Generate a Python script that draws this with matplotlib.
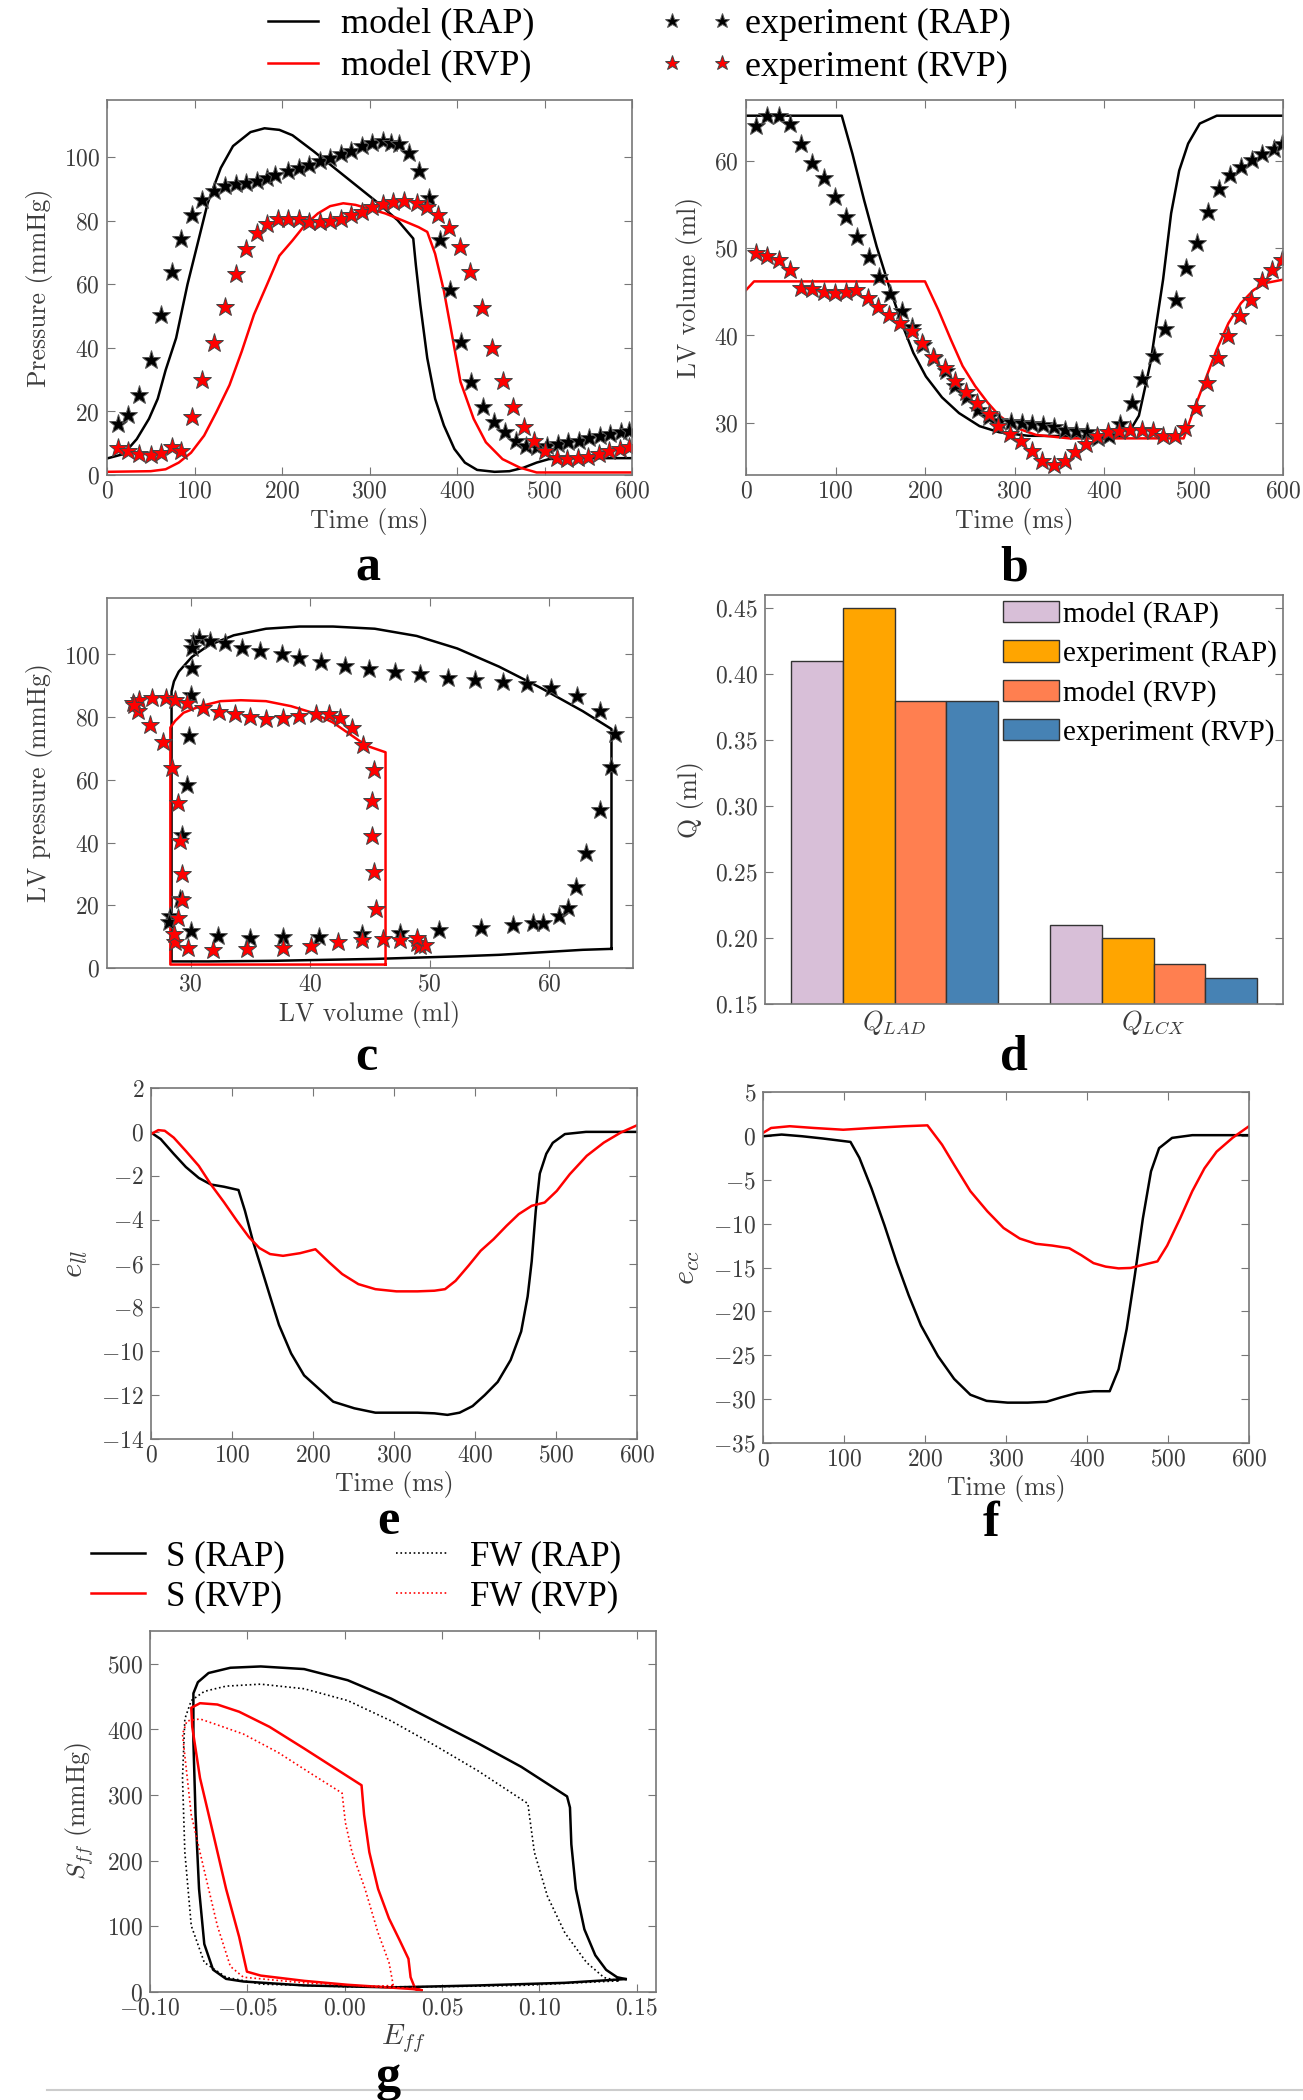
import numpy as np
import matplotlib
matplotlib.use('Agg')
import matplotlib.pyplot as plt
from matplotlib.lines import Line2D
from matplotlib.font_manager import FontProperties

# ---------------- data ----------------
# panel a : LV pressure vs time
a_t_model_rap = [0, 19, 34, 48, 58, 67, 79, 92, 105, 115, 130, 144, 164, 180, 197, 212, 236, 260, 284, 308, 332, 350,
                 353, 358, 366, 375, 385, 397, 409, 423, 443, 460, 476, 491, 505, 530, 600]
a_p_model_rap = [5.2, 6.6, 11.3, 17.7, 24, 33, 43.1, 60, 74.4, 85.5, 96.6, 103.5, 107.9, 109.1, 108.6, 106.9, 101.9,
                 96.6, 91.3, 86, 80.2, 74.4, 66, 53.7, 36.8, 24, 15.6, 8.2, 3.9, 1.6, 1.0, 1.2, 2.3, 3.9, 5.0, 5.3, 5.3]
a_t_model_rvp = [0, 50, 67, 82, 96, 111, 125, 140, 154, 168, 183, 197, 212, 226, 241, 255, 270, 284, 298, 318, 337,
                 356, 366, 375, 385, 395, 404, 419, 433, 452, 472, 491, 600]
a_p_model_rvp = [1.0, 1.2, 1.8, 3.9, 7, 12.4, 19.8, 28.3, 38.9, 50.5, 60, 69, 73.8, 78.6, 82.3, 84.6, 85.5, 85, 83.9,
                 82.3, 80.2, 78, 76.5, 69.6, 58, 43, 29.3, 17.7, 10.3, 5, 2.3, 0.8, 0.8]
a_t_exp_rap = [12, 24, 37, 50, 62, 74, 85, 97, 109, 122, 135, 147, 159, 171, 183, 192, 207, 219, 231, 243, 255, 267,
               279, 291, 303, 315, 325, 334, 345, 356, 368, 380, 392, 404, 416, 430, 442, 455, 467, 479, 491, 503, 515,
               527, 539, 551, 563, 575, 587, 597]
a_p_exp_rap = [16.1, 18.8, 25.3, 36.2, 50.3, 64, 74.4, 81.8, 86.5, 89.4, 90.8, 91.6, 92, 92.4, 93.4, 94.5, 95.6, 96.6,
               97.7, 98.7, 99.8, 101, 102.1, 103.5, 104.6, 105.1, 104.6, 104, 101.2, 95.6, 87.1, 73.8, 58.2, 42, 29.3,
               21.4, 16.6, 13.5, 10.8, 9.2, 8.7, 9.2, 9.7, 10.3, 10.8, 11.5, 12.4, 12.9, 13.5, 13.7]
a_t_exp_rvp = [12, 24, 37, 50, 62, 74, 85, 97, 109, 122, 135, 147, 159, 171, 183, 195, 207, 219, 231, 243, 255, 267,
               279, 291, 303, 315, 327, 339, 354, 366, 378, 391, 403, 415, 428, 440, 452, 464, 476, 488, 500, 514, 526,
               538, 550, 562, 574, 586, 597]
a_p_exp_rvp = [8.4, 7.6, 6.6, 6.4, 6.8, 8.7, 7.6, 18.2, 29.9, 41.5, 52.9, 63.2, 71.2, 76.2, 79.1, 80.4, 80.7, 80.4,
               79.7, 79.7, 80, 80.7, 81.8, 82.8, 84.2, 85.3, 86, 86.3, 85.7, 84.4, 81.8, 77.8, 71.9, 63.8, 52.6, 40.1,
               29.6, 21.4, 15, 10.8, 7.6, 5.5, 5, 5.2, 5.8, 6.6, 7.6, 8.2, 8.7]

# panel b : LV volume vs time
b_t_model_rap = [0, 107, 119, 132, 146, 160, 174, 187, 201, 219, 238, 261, 283, 315, 425, 439, 452, 466, 475, 484, 494,
                 507, 526, 600]
b_v_model_rap = [65.2, 65.2, 60.8, 55.5, 50.2, 45.6, 41.4, 38, 35.3, 32.9, 31.1, 29.6, 28.9, 28.5, 28.4, 30.8, 36.9,
                 46.4, 54, 58.9, 62, 64.3, 65.2, 65.2]
b_t_model_rvp = [0, 9, 200, 215, 229, 242, 256, 270, 283, 302, 324, 361, 489, 498, 512, 526, 539, 553, 567, 580, 600]
b_v_model_rvp = [45.2, 46.2, 46.2, 42.9, 39.5, 36.5, 34.2, 32.3, 30.8, 29.4, 28.6, 28.2, 28.2, 30.8, 34.6, 38.4, 41.4,
                 43.7, 45.2, 46, 46.4]
b_t_exp_rap = [11, 23, 37, 49, 62, 74, 87, 99, 112, 124, 137, 149, 161, 174, 186, 198, 210, 223, 234, 247, 259, 271,
               283, 296, 308, 320, 332, 344, 356, 369, 381, 393, 406, 418, 431, 443, 456, 468, 480, 492, 504, 516, 529,
               541, 553, 565, 577, 590, 599]
b_v_exp_rap = [64, 65.2, 65.2, 64.3, 62, 59.8, 58, 55.9, 53.6, 51.3, 49, 46.7, 44.8, 42.8, 41, 38.9, 37.4, 35.9, 34.2,
               32.9, 31.5, 30.6, 30.2, 30.1, 30, 29.8, 29.7, 29.5, 29.2, 29, 28.9, 28.3, 28.5, 29.8, 32.3, 35, 37.6,
               40.7, 44.1, 47.7, 50.6, 54.2, 56.8, 58.4, 59.3, 60.1, 60.8, 61.4, 62]
b_t_exp_rvp = [11, 24, 37, 49, 62, 74, 87, 99, 112, 123, 136, 148, 160, 172, 185, 197, 209, 222, 233, 246, 258, 271,
               282, 295, 307, 319, 331, 344, 356, 368, 380, 392, 404, 417, 429, 442, 455, 466, 479, 491, 503, 515, 527,
               539, 552, 564, 576, 588, 599]
b_v_exp_rvp = [49.4, 49.1, 48.7, 47.5, 45.4, 45.3, 45, 44.9, 45, 45.2, 44.3, 43.3, 42.4, 41.4, 40.5, 39.1, 37.5, 36.3,
               34.8, 33.5, 32.3, 31, 29.6, 28.7, 27.9, 26.8, 25.6, 25.2, 25.6, 26.6, 27.5, 28.5, 28.9, 29, 29.2, 29.2,
               29, 28.5, 28.5, 29.4, 31.7, 34.6, 37.4, 39.9, 42.2, 44.1, 46.2, 47.5, 48.7]

# panel c : PV loops
c_v_model_rap = [65.2, 65.2, 62.8, 59.3, 55.8, 52.3, 48.9, 45.4, 41.9, 39.1, 36.3, 33.6, 31.5, 30.1, 29.0, 28.6, 28.4,
                 28.4, 28.4, 31.5, 37.0, 45.4, 52.3, 55.8, 59.3, 62.8, 65.2]
c_p_model_rap = [6.1, 76.2, 81.9, 89.3, 96.1, 101.9, 105.9, 108.2, 108.9, 108.9, 108.2, 106.1, 102.9, 99.2, 94.5, 91.4,
                 88.2, 40.0, 2.1, 2.1, 2.3, 2.9, 3.7, 4.2, 5.0, 5.8, 6.1]
c_v_model_rvp = [46.3, 46.3, 44.7, 43.3, 41.9, 40.2, 38.4, 36.3, 34.2, 32.5, 30.8, 29.4, 28.7, 28.3, 28.3, 46.3]
c_p_model_rvp = [1.1, 68.8, 70.9, 74.6, 78.3, 81.4, 83.5, 85.1, 85.4, 85.1, 83.5, 81.4, 78.8, 76.7, 1.1, 1.1]
c_v_exp_rap = [60.8, 61.6, 62.2, 63.1, 64.2, 65.2, 65.5, 64.2, 62.3, 60.1, 58.1, 56.1, 53.8, 51.5, 49.2, 47.1, 44.9,
               42.9, 40.9, 39.1, 37.6, 35.8, 34.3, 32.9, 31.6, 30.7, 30.2, 30.1, 30.1, 30.0, 29.9, 29.7, 29.3, 29.1,
               28.3, 28.2, 30.0, 32.3, 35.0, 37.7, 40.7, 44.3, 47.5, 50.8, 54.3, 57.0, 58.6, 59.5]
c_p_exp_rap = [16.6, 19.1, 25.7, 36.8, 50.4, 64.1, 74.6, 82.1, 86.7, 89.3, 90.5, 91.2, 91.9, 92.6, 93.7, 94.3, 95.4,
               96.4, 97.7, 98.9, 100.0, 101.0, 102.1, 103.5, 104.2, 105.3, 104.0, 101.9, 95.8, 87.2, 74.0, 58.3, 42.5,
               22.0, 16.6, 14.7, 11.8, 10.2, 9.7, 9.8, 10.0, 10.7, 11.2, 12.1, 12.9, 13.7, 14.4, 14.4]
c_v_exp_rvp = [25.2, 25.7, 26.8, 27.9, 28.7, 29.7, 31.0, 32.4, 33.7, 35.0, 36.3, 37.7, 39.1, 40.5, 41.6, 42.5, 43.5,
               44.4, 45.3, 45.2, 45.2, 45.3, 45.5, 46.1, 44.3, 42.3, 40.1, 37.7, 34.7, 31.9, 29.8, 28.7, 28.6, 28.9,
               29.3, 29.3, 29.1, 28.9, 28.4, 27.7, 26.6, 25.6, 25.3, 47.5, 48.9, 49.2, 49.6, 48.9]
c_p_exp_rvp = [84.6, 85.6, 86.1, 86.1, 85.4, 84.6, 82.8, 81.7, 80.9, 80.0, 79.5, 79.8, 80.4, 80.9, 81.1, 79.6, 76.7,
               71.1, 63.2, 53.3, 42.0, 30.5, 18.9, 9.2, 8.9, 8.2, 7.0, 6.5, 6.0, 5.6, 6.3, 8.4, 11.0, 15.8, 21.8, 29.9,
               40.4, 52.7, 63.8, 72.0, 77.5, 81.9, 84.0, 8.9, 7.9, 7.0, 7.4, 9.5]

# panel d : coronary flow
d_groups = ['$Q_{LAD}$', '$Q_{LCX}$']
d_series = ['model (RAP)', 'experiment (RAP)', 'model (RVP)', 'experiment (RVP)']
d_model_rap = [0.41, 0.21]
d_exp_rap = [0.45, 0.20]
d_model_rvp = [0.38, 0.18]
d_exp_rvp = [0.38, 0.17]
d_colors = ['#d8bfd8', '#ffa500', '#ff7f50', '#4682b4']

# panel e : longitudinal strain
e_t_rap = [0, 12, 28, 43, 59, 74, 90, 108, 116, 126, 137, 147, 158, 173, 189, 204, 225, 251, 277, 303, 329, 350, 366,
           381, 397, 412, 428, 444, 457, 465, 470, 475, 480, 488, 496, 511, 537, 600]
e_v_rap = [-0.03, -0.33, -1.0, -1.6, -2.1, -2.4, -2.5, -2.65, -3.6, -5.0, -6.3, -7.5, -8.8, -10.1, -11.1, -11.6, -12.3,
           -12.6, -12.8, -12.8, -12.8, -12.83, -12.9, -12.8, -12.5, -12.0, -11.4, -10.4, -9.1, -7.5, -5.9, -3.6, -1.9,
           -1.0, -0.5, -0.1, 0.0, 0.0]
e_t_rvp = [0, 9, 17, 28, 43, 59, 74, 90, 106, 121, 134, 147, 163, 184, 203, 220, 236, 256, 277, 303, 329, 350, 363, 376,
           392, 407, 423, 439, 454, 470, 486, 501, 517, 538, 559, 580, 600]
e_v_rvp = [-0.1, 0.08, 0.05, -0.26, -0.87, -1.55, -2.4, -3.2, -4.05, -4.8, -5.3, -5.57, -5.65, -5.53, -5.35, -5.95,
           -6.48, -6.94, -7.17, -7.27, -7.27, -7.24, -7.17, -6.79, -6.1, -5.42, -4.89, -4.28, -3.75, -3.37, -3.22,
           -2.69, -1.93, -1.09, -0.49, -0.03, 0.3]

# panel f : circumferential strain
f_t_rap = [0, 23, 48, 74, 94, 108, 119, 134, 150, 165, 180, 195, 216, 236, 256, 276, 302, 327, 350, 368, 388, 408, 428,
           439, 449, 459, 469, 479, 489, 505, 530, 600]
f_v_rap = [-0.04, 0.15, -0.04, -0.3, -0.53, -0.69, -2.5, -6, -10.2, -14.4, -18.2, -21.6, -25.1, -27.7, -29.5, -30.2,
           -30.4, -30.4, -30.3, -29.8, -29.3, -29.1, -29.1, -26.6, -22, -15.9, -9.4, -4.05, -1.4, -0.23, 0.08, 0.08]
f_t_rvp = [0, 10, 33, 63, 99, 134, 175, 203, 221, 236, 256, 277, 297, 317, 337, 357, 378, 393, 408, 423, 439, 454, 469,
           487, 499, 515, 530, 545, 560, 580, 600]
f_v_rvp = [0.34, 0.9, 1.1, 0.9, 0.7, 0.9, 1.1, 1.2, -1.0, -3.3, -6.3, -8.6, -10.5, -11.7, -12.3, -12.5, -12.8, -13.6,
           -14.5, -14.9, -15.1, -15.05, -14.7, -14.3, -12.5, -9.4, -6.3, -3.7, -1.8, -0.2, 1.1]

# panel g : fibre stress-strain loops
g_e_s_rap = [0.1444, 0.14, 0.1344, 0.1288, 0.1232, 0.1188, 0.1165, 0.1158, 0.1143, 0.0908, 0.0685, 0.0462, 0.0239,
             0.0016, -0.0208, -0.0431, -0.0587, -0.0699, -0.0754, -0.0777, -0.0777, -0.0766, -0.0748, -0.0721,
             -0.0676, -0.0609, -0.052, -0.0208, 0.0239, 0.0685, 0.1132, 0.1444]
g_s_s_rap = [19.7, 22.5, 33.7, 56, 95.5, 157, 225, 281, 298, 343, 379, 413, 447, 475, 492, 496, 494, 486, 472, 455, 382,
             270, 157, 73, 34, 20, 16, 10, 7, 10, 14, 19.7]
g_e_fw_rap = [0.141, 0.1333, 0.1243, 0.1132, 0.1042, 0.0975, 0.0949, 0.0942, 0.0685, 0.0462, 0.0239, 0.0016, -0.0208,
              -0.0431, -0.0609, -0.0721, -0.0788, -0.0821, -0.0833, -0.0821, -0.0788, -0.0721, -0.0609, -0.0431,
              0.0016, 0.0462, 0.0908, 0.141]
g_s_fw_rap = [17, 22, 45, 90, 146, 213, 270, 287, 337, 376, 413, 444, 462, 469, 466, 458, 444, 416, 326, 213, 101, 45,
              22.5, 12, 8, 8, 10, 17]
g_e_s_rvp = [0.0395, 0.035, 0.0358, 0.0339, 0.0328, 0.0283, 0.0228, 0.0172, 0.0127, 0.0100, 0.0087, -0.0029, -0.0208,
             -0.0386, -0.0542, -0.0654, -0.0743, -0.0788, -0.0783, -0.0743, -0.0676, -0.0609, -0.0542, -0.0502,
             -0.0431, -0.0208, 0.0016, 0.0239, 0.035, 0.0395]
g_s_s_rvp = [2.8, 5.6, 8.4, 22.5, 50.6, 78.7, 112, 157, 213, 270, 315, 337, 371, 404, 427, 438, 440, 433, 404, 326, 242,
             157, 84, 31, 25, 17, 11, 6.7, 4.5, 2.8]
g_e_fw_rvp = [0.025, 0.0228, 0.0172, 0.0105, 0.0038, 0.0004, -0.0013, -0.0163, -0.0342, -0.052, -0.0654, -0.0743,
              -0.081, -0.0833, -0.0821, -0.0788, -0.0721, -0.0654, -0.0587, -0.052, -0.0208, 0.0127, 0.025]
g_s_fw_rvp = [10, 45, 90, 157, 213, 258, 303, 331, 365, 393, 407, 416, 413, 393, 360, 270, 185, 101, 39, 22.5, 14, 8.4,
              10]

# ---------------- style ----------------
W, H = 1303, 2100
plt.rcParams.update({
    'font.family': 'cmr10',
    'mathtext.fontset': 'cm',
    'axes.formatter.use_mathtext': True,
    'axes.unicode_minus': True,
    'xtick.direction': 'in', 'ytick.direction': 'in',
    'xtick.top': True, 'ytick.right': True,
    'xtick.major.size': 6, 'ytick.major.size': 6,
    'xtick.major.width': 0.8, 'ytick.major.width': 0.8,
    'xtick.color': '#777777', 'ytick.color': '#777777',
    'xtick.labelcolor': '#3c3c3c', 'ytick.labelcolor': '#3c3c3c',
    'xtick.labelsize': 17, 'ytick.labelsize': 17,
    'xtick.major.pad': 4, 'ytick.major.pad': 5,
    'axes.edgecolor': '#777777', 'axes.linewidth': 1.2,
    'axes.labelcolor': '#3c3c3c', 'axes.labelsize': 18.5,
})
RED = '#ff0000'
LW = 1.8
STAR = dict(ls='none', marker='*', ms=14, mew=0.7)
serif = 'Liberation Serif'

fig = plt.figure(figsize=(W / 100, H / 100), dpi=100)


def ax_at(x0, x1, y0, y1):
    return fig.add_axes([x0 / W, 1 - y1 / H, (x1 - x0) / W, (y1 - y0) / H])


def letter(x, y, s):
    fig.text(x / W, 1 - y / H, s, ha='center', va='center', fontsize=36, fontweight='bold', family=serif)


# panel a
ax = ax_at(107, 632, 100, 475)
ax.plot(a_t_model_rap, a_p_model_rap, color='k', lw=LW)
ax.plot(a_t_model_rvp, a_p_model_rvp, color=RED, lw=LW)
ax.plot(a_t_exp_rap, a_p_exp_rap, color='k', mec='#555555', **STAR)
ax.plot(a_t_exp_rvp, a_p_exp_rvp, color=RED, mec='#444444', **STAR)
ax.set_xlim(0, 600)
ax.set_ylim(0, 118)
ax.set_xticks(range(0, 601, 100))
ax.set_yticks(range(0, 101, 20))
ax.set_xlabel('Time (ms)', labelpad=4)
ax.set_ylabel('Pressure (mmHg)', labelpad=8)
letter(368, 568, 'a')

# panel b
ax = ax_at(746, 1283, 100, 475)
ax.plot(b_t_model_rap, b_v_model_rap, color='k', lw=LW)
ax.plot(b_t_model_rvp, b_v_model_rvp, color=RED, lw=LW)
ax.plot(b_t_exp_rap, b_v_exp_rap, color='k', mec='#555555', **STAR)
ax.plot(b_t_exp_rvp, b_v_exp_rvp, color=RED, mec='#444444', **STAR)
ax.set_xlim(0, 600)
ax.set_ylim(24, 67)
ax.set_xticks(range(0, 601, 100))
ax.set_yticks(range(30, 61, 10))
ax.set_xlabel('Time (ms)', labelpad=4)
ax.set_ylabel('LV volume (ml)', labelpad=8)
letter(1014, 568, 'b')

# panel c
ax = ax_at(107, 633, 598, 968)
ax.plot(c_v_model_rap, c_p_model_rap, color='k', lw=LW)
ax.plot(c_v_model_rvp, c_p_model_rvp, color=RED, lw=LW)
ax.plot(c_v_exp_rap, c_p_exp_rap, color='k', mec='#555555', **STAR)
ax.plot(c_v_exp_rvp, c_p_exp_rvp, color=RED, mec='#444444', **STAR)
ax.set_xlim(23, 67)
ax.set_ylim(0, 118)
ax.set_xticks(range(30, 61, 10))
ax.set_yticks(range(0, 101, 20))
ax.set_xlabel('LV volume (ml)', labelpad=4)
ax.set_ylabel('LV pressure (mmHg)', labelpad=8)
letter(366, 1058, 'c')

# panel d
ax = ax_at(765, 1283, 595, 1004)
xg = np.arange(len(d_groups))
bw = 0.2
for k, (vals, lab) in enumerate(zip([d_model_rap, d_exp_rap, d_model_rvp, d_exp_rvp], d_series)):
    ax.bar(xg + (k - 1.5) * bw, vals, bw, color=d_colors[k], edgecolor='#333333', lw=1.0, label=lab)
ax.set_xlim(-0.5, 1.5)
ax.set_ylim(0.15, 0.46)
ax.set_xticks(xg)
ax.set_xticklabels(d_groups, fontsize=19)
ax.tick_params(axis='x', length=0, pad=3)
ax.set_yticks([0.15, 0.20, 0.25, 0.30, 0.35, 0.40, 0.45])
ax.set_ylabel('Q (ml)', labelpad=8)
ax.legend(loc='upper right', frameon=False, prop=FontProperties(family=serif, size=21), handlelength=1.9,
          handleheight=0.75, handletextpad=0.15, labelspacing=0.42, borderaxespad=0.1, borderpad=0.1)
letter(1014, 1058, 'd')

# panel e
ax = ax_at(151, 637, 1088, 1439)
ax.plot(e_t_rap, e_v_rap, color='k', lw=LW)
ax.plot(e_t_rvp, e_v_rvp, color=RED, lw=LW)
ax.set_xlim(0, 600)
ax.set_ylim(-14, 2)
ax.set_xticks(range(0, 601, 100))
ax.set_yticks(range(-14, 3, 2))
ax.set_xlabel('Time (ms)', labelpad=3)
ax.set_ylabel('$e_{ll}$', labelpad=8, fontsize=22)
letter(388, 1522, 'e')

# panel f
ax = ax_at(763, 1249, 1092, 1443)
ax.plot(f_t_rap, f_v_rap, color='k', lw=LW)
ax.plot(f_t_rvp, f_v_rvp, color=RED, lw=LW)
ax.set_xlim(0, 600)
ax.set_ylim(-35, 5)
ax.set_xticks(range(0, 601, 100))
ax.set_yticks(range(-35, 6, 5))
ax.set_xlabel('Time (ms)', labelpad=3)
ax.set_ylabel('$e_{cc}$', labelpad=8, fontsize=22)
letter(991, 1524, 'f')

# panel g
ax = ax_at(150, 656, 1631, 1992)
g1, = ax.plot(g_e_s_rap, g_s_s_rap, color='k', lw=LW, label='S (RAP)')
g2, = ax.plot(g_e_s_rvp, g_s_s_rvp, color=RED, lw=LW, label='S (RVP)')
g3, = ax.plot(g_e_fw_rap, g_s_fw_rap, color='k', lw=1.2, ls=':', label='FW (RAP)')
g4, = ax.plot(g_e_fw_rvp, g_s_fw_rvp, color=RED, lw=1.2, ls=':', label='FW (RVP)')
ax.set_xlim(-0.10, 0.16)
ax.set_ylim(0, 550)
ax.set_xticks([-0.10, -0.05, 0.00, 0.05, 0.10, 0.15])
ax.set_yticks(range(0, 501, 100))
ax.set_xlabel('$E_{ff}$', labelpad=2, fontsize=21)
ax.set_ylabel('$S_{ff}$ (mmHg)', labelpad=8)
fig.legend(handles=[g1, g2, g3, g4], ncol=2, loc='upper left', bbox_to_anchor=(91 / W, 1 - 1540 / H),
           frameon=False, prop=FontProperties(family=serif, size=25), handlelength=1.55, handletextpad=0.6,
           columnspacing=3.2, labelspacing=0.2, borderpad=0, borderaxespad=0)
letter(388, 2078, 'g')

# top legend
h1 = Line2D([], [], color='k', lw=LW)
h2 = Line2D([], [], color=RED, lw=LW)
h3 = Line2D([], [], color='k', mec='#555555', **STAR)
h4 = Line2D([], [], color=RED, mec='#444444', **STAR)
fig.legend(handles=[h1, h2, h3, h4], labels=['model (RAP)', 'model (RVP)', 'experiment (RAP)', 'experiment (RVP)'],
           ncol=2, loc='upper left', bbox_to_anchor=(257 / W, 1 - 8 / H), frameon=False, numpoints=2,
           prop=FontProperties(family=serif, size=26), handlelength=2.0, handletextpad=0.33, columnspacing=3.5,
           labelspacing=0.25, borderpad=0, borderaxespad=0, markerscale=0.8)

fig.add_artist(Line2D([47 / W, 1.0], [1 - 2090 / H, 1 - 2090 / H], color='#cccccc', lw=1.5,
                      transform=fig.transFigure))

fig.savefig('out.png', dpi=100)
